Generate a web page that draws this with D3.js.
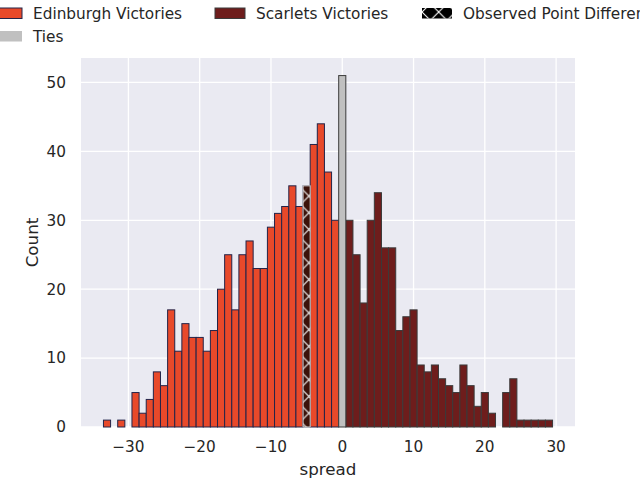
<!DOCTYPE html>
<html>
<head>
<meta charset="utf-8">
<script src="https://cdn.jsdelivr.net/npm/d3@7"></script>
<style>
  body { margin: 0; background: #fff; }
  svg { display: block; font-family: "DejaVu Sans", sans-serif; }
</style>
</head>
<body>
<svg id="chart" width="640" height="480"></svg>
<script>
// point spread, one bin per point
const edinSpread = [-33, -32, -31, -30, -29, -28, -27, -26, -25, -24, -23, -22, -21, -20, -19, -18, -17,
  -16, -15, -14, -13, -12, -11, -10, -9, -8, -7, -6, -5, -4, -3, -2, -1]
const edinCount = [1, 0, 1, 0, 5, 2, 4, 8, 6, 17, 11, 15, 13, 13, 11, 14, 20,
  25, 17, 25, 27, 23, 23, 29, 31, 32, 35, 32, 35, 41, 44, 37, 30]

const scarSpread = [1, 2, 3, 4, 5, 6, 7, 8, 9, 10, 11, 12, 13, 14, 15, 16, 17, 18, 19, 20,
  21, 22, 23, 24, 25, 26, 27, 28, 29]
const scarCount = [30, 25, 18, 30, 34, 26, 26, 14, 16, 17, 9, 8, 9, 7, 6, 5, 9, 6, 3, 5,
  2, 0, 5, 7, 1, 1, 1, 1, 1]

const tieSpread = [0]
const tieCount = [51]

const observedSpread = -5

const xTicks = [-30, -20, -10, 0, 10, 20, 30]
const yTicks = [0, 10, 20, 30, 40, 50]

const legendLabels = ["Edinburgh Victories", "Scarlets Victories", "Observed Point Difference", "Ties"]

const colors = {
  edin: "#e8492a", edinEdge: "#232449",
  scar: "#6e1d1c", scarEdge: "#3a3a3a",
  tie: "#c0c0c0", tieEdge: "#3a3a3a",
  obs: "#3b120a"
}

const svg = d3.select("#chart")
const margin = { top: 58, right: 65, bottom: 53, left: 81 }
const width = 640, height = 480

const x = d3.scaleLinear().domain([-36.65, 32.65]).range([margin.left, width - margin.right])
const y = d3.scaleLinear().domain([0, 53.55]).range([height - margin.bottom, margin.top])

// hatch pattern (matplotlib 'x')
const defs = svg.append("defs")
const pat = defs.append("pattern")
  .attr("id", "hatch")
  .attr("patternUnits", "userSpaceOnUse")
  .attr("width", 16.7).attr("height", 16.7)
  .attr("y", 4)
pat.append("path")
  .attr("d", "M0,0L16.7,16.7M16.7,0L0,16.7M-2,2L2,-2M14.7,18.7L18.7,14.7")
  .attr("stroke", "#fff").attr("stroke-width", 1.1)

// background + grid
svg.append("rect")
  .attr("x", margin.left).attr("y", margin.top)
  .attr("width", width - margin.left - margin.right)
  .attr("height", height - margin.top - margin.bottom)
  .attr("fill", "#eaeaf2")

svg.append("g").selectAll("line").data(xTicks).join("line")
  .attr("x1", d => x(d)).attr("x2", d => x(d))
  .attr("y1", margin.top).attr("y2", height - margin.bottom)
  .attr("stroke", "#fff").attr("stroke-width", 1.3)

svg.append("g").selectAll("line").data(yTicks).join("line")
  .attr("x1", margin.left).attr("x2", width - margin.right)
  .attr("y1", d => y(d)).attr("y2", d => y(d))
  .attr("stroke", "#fff").attr("stroke-width", 1.3)

const drawBars = (spreads, counts, fill, edge) => {
  const data = spreads.map((s, i) => ({ s, c: counts[i] })).filter(d => d.c > 0)
  svg.append("g").selectAll("rect").data(data).join("rect")
    .attr("x", d => x(d.s - 0.5))
    .attr("width", d => x(d.s + 0.5) - x(d.s - 0.5))
    .attr("y", d => y(d.c))
    .attr("height", d => y(0) - y(d.c))
    .attr("fill", fill)
    .attr("stroke", edge)
    .attr("stroke-width", 1)
}

drawBars(edinSpread, edinCount, colors.edin, colors.edinEdge)
drawBars(scarSpread, scarCount, colors.scar, colors.scarEdge)
drawBars(tieSpread, tieCount, colors.tie, colors.tieEdge)

// observed bar on top of its Edinburgh bin
const obsCount = edinCount[edinSpread.indexOf(observedSpread)]
const obsG = svg.append("g")
obsG.append("rect")
  .attr("x", x(observedSpread - 0.5))
  .attr("width", x(observedSpread + 0.5) - x(observedSpread - 0.5))
  .attr("y", y(obsCount)).attr("height", y(0) - y(obsCount))
  .attr("fill", colors.obs)
obsG.append("rect")
  .attr("x", x(observedSpread - 0.5))
  .attr("width", x(observedSpread + 0.5) - x(observedSpread - 0.5))
  .attr("y", y(obsCount)).attr("height", y(0) - y(obsCount))
  .attr("fill", "url(#hatch)")
  .attr("stroke", "#d8d8d8").attr("stroke-width", 1)

// tick labels
svg.append("g").selectAll("text").data(xTicks).join("text")
  .attr("x", d => x(d)).attr("y", height - margin.bottom + 25)
  .attr("text-anchor", "middle")
  .attr("font-size", 15.3).attr("fill", "#262626")
  .text(d => d < 0 ? "\u2212" + Math.abs(d) : d)

svg.append("g").selectAll("text").data(yTicks).join("text")
  .attr("x", margin.left - 15).attr("y", d => y(d))
  .attr("dy", "0.35em")
  .attr("text-anchor", "end")
  .attr("font-size", 15.3).attr("fill", "#262626")
  .text(d => d)

svg.append("text")
  .attr("x", (margin.left + width - margin.right) / 2).attr("y", 475)
  .attr("text-anchor", "middle")
  .attr("font-size", 16.7).attr("fill", "#262626")
  .text("spread")

svg.append("text")
  .attr("transform", `translate(38, ${(margin.top + height - margin.bottom) / 2}) rotate(-90)`)
  .attr("text-anchor", "middle")
  .attr("font-size", 16.7).attr("fill", "#262626")
  .text("Count")

// legend, 3 columns filled column-wise
const legendItems = [
  { label: legendLabels[0], x: -8, y: 8, fill: colors.edin, stroke: colors.edinEdge },
  { label: legendLabels[3], x: -8, y: 31, fill: colors.tie, stroke: "none" },
  { label: legendLabels[1], x: 215, y: 8, fill: colors.scar, stroke: colors.scarEdge },
  { label: legendLabels[2], x: 422, y: 8, fill: "#000", stroke: "none", hatch: true }
]
const lg = svg.append("g").selectAll("g").data(legendItems).join("g")
  .attr("transform", d => `translate(${d.x}, ${d.y})`)
lg.append("rect")
  .attr("width", 30).attr("height", 10.5)
  .attr("fill", d => d.fill)
  .attr("stroke", d => d.stroke).attr("stroke-width", 1)
lg.filter(d => d.hatch).append("rect")
  .attr("width", 30).attr("height", 10.5)
  .attr("fill", "url(#hatch)")
lg.append("text")
  .attr("x", 41).attr("y", 5.5).attr("dy", "0.35em")
  .attr("font-size", 15.3).attr("fill", "#262626")
  .text(d => d.label)
</script>
</body>
</html>
